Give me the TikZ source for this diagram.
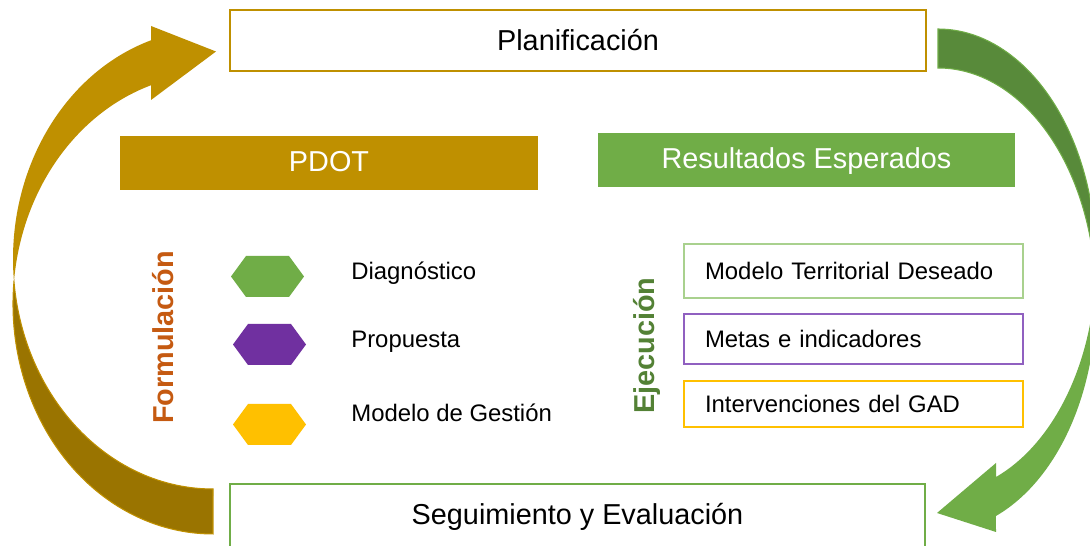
\documentclass[tikz,border=0pt]{standalone}
\usepackage{fontspec}
\setmainfont{Liberation Sans}
\usepackage{tikz}

\definecolor{gold}{HTML}{BF9000}
\definecolor{golddark}{HTML}{9A7400}
\definecolor{leaf}{HTML}{70AD47}
\definecolor{leafdark}{HTML}{588A3A}
\definecolor{plum}{HTML}{7030A0}
\definecolor{amber}{HTML}{FFC000}
\definecolor{rust}{HTML}{C55A11}
\definecolor{moss}{HTML}{538135}
\definecolor{paleleaf}{HTML}{A9D18E}
\definecolor{lilac}{HTML}{9060C0}

\tikzset{
  bigtxt/.style={font=\fontsize{16.4}{19}\selectfont},
  midtxt/.style={font=\fontsize{13.6}{16}\selectfont},
  stage/.style={draw=#1, line width=1.2pt, fill=white, minimum width=13.92cm, bigtxt},
  bar/.style={fill=#1, text=white, minimum width=8.36cm, minimum height=1.08cm, text height=0.95em, text depth=0pt, bigtxt},
  item/.style={draw=#1, line width=0.8pt, inner xsep=0.42cm, text width=5.94cm, align=left, midtxt},
  phase/.style={rotate=90, text=#1, font=\fontsize{16.4}{19}\selectfont\bfseries}
}

\begin{document}
\begin{tikzpicture}[x=0.02cm,y=0.02cm]
\useasboundingbox (0,0) rectangle (1090,-546);
\clip (0,0) rectangle (1090,-546);
\fill[white] (0,0) rectangle (1090,-546);

% curved arrow on the left
\filldraw[fill=golddark,draw=gold,line width=0.6pt] (13.96,-281.5) arc[start angle=174.39,end angle=270,x radius=200,y radius=230] -- (213,-489) arc[start angle=270,end angle=185.61,x radius=200,y radius=230] -- cycle;
\fill[gold] (151,-100) -- (216,-51.5) -- (151,-26) -- (151,-40.3) arc[start angle=108.06,end angle=185.61,x radius=200,y radius=230] arc[start angle=174.39,end angle=108.06,x radius=200,y radius=230] -- cycle;

% curved arrow on the right
\filldraw[fill=leafdark,draw=leaf,line width=0.6pt] (938,-29) arc[start angle=90,end angle=-4.82,x radius=158,y radius=232.1] arc[start angle=4.82,end angle=90,x radius=158,y radius=232.1] -- cycle;
\fill[leaf] (1095.4,-280.6) arc[start angle=4.82,end angle=-68.46,x radius=158,y radius=232.1] -- (996,-532) -- (937,-513) -- (996,-463) -- (996,-477) arc[start angle=-68.46,end angle=-4.82,x radius=158,y radius=232.1] -- cycle;

\node[stage=gold,minimum height=1.22cm] (plan) at (578,-40.5) {Planificación};
\node[stage=leaf,minimum height=1.32cm] (seg) at (577.5,-517) {Seguimiento y Evaluación};

\node[bar=gold] (pdot) at (329,-163) {PDOT};
\node[bar=leaf] (res) at (806.5,-160) {Resultados Esperados};

\node[phase=rust] (form) at (163,-337.5) {Formulación};
\node[phase=moss] (ejec) at (647,-345.5) {Ejecución};

\fill[leaf] (231,-276.5) -- (246,-256) -- (289,-256) -- (304,-276.5) -- (289,-297) -- (246,-297) -- cycle;
\fill[plum] (233,-344.5) -- (248,-324) -- (291,-324) -- (306,-344.5) -- (291,-365) -- (248,-365) -- cycle;
\fill[amber] (233,-424.5) -- (248,-404) -- (291,-404) -- (306,-424.5) -- (291,-445) -- (248,-445) -- cycle;

\node[midtxt,anchor=west,inner sep=0pt] (diag) at (351,-273) {Diagnóstico};
\node[midtxt,anchor=west,inner sep=0pt] (prop) at (351,-342) {Propuesta};
\node[midtxt,anchor=west,inner sep=0pt] (gest) at (351,-413) {Modelo de Gestión};

\node[item=paleleaf,minimum height=1.08cm] (modelo) at (853.5,-271) {Modelo Territorial Deseado};
\node[item=lilac,minimum height=1.0cm] (metas) at (853.5,-339) {Metas e indicadores};
\node[item=amber,minimum height=0.92cm] (interv) at (853.5,-404) {Intervenciones del GAD};
\end{tikzpicture}
\end{document}
